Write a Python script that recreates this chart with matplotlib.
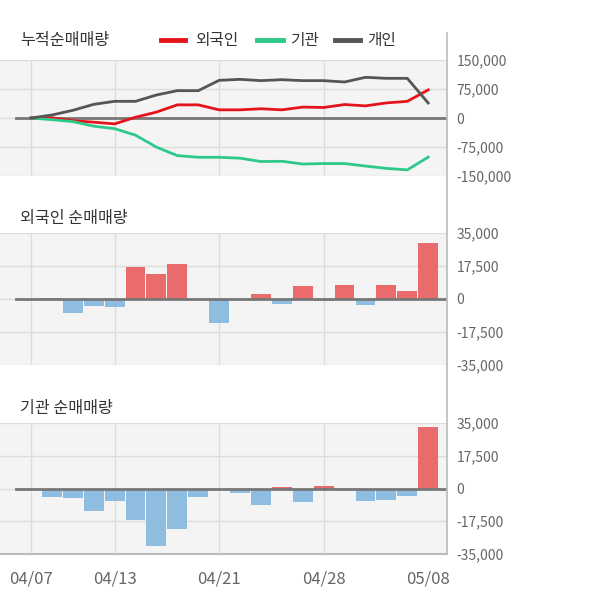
import numpy as np
import matplotlib
matplotlib.use("Agg")
import matplotlib.pyplot as plt
from matplotlib.lines import Line2D

plt.rcParams['font.family'] = ['Noto Sans CJK KR', 'DejaVu Sans']

# 거래일 (04/07 ~ 05/08)
dates = ["04/07", "04/08", "04/09", "04/10", "04/13", "04/14", "04/16", "04/17",
         "04/20", "04/21", "04/22", "04/23", "04/24", "04/27", "04/28", "04/29",
         "05/04", "05/06", "05/07", "05/08"]
tick_dates = ["04/07", "04/13", "04/21", "04/28", "05/08"]

# 일별 순매매량
foreign = [0, 700, -7600, -3900, -4400, 17100, 13400, 18700, 0, -12900,
           0, 2800, -2800, 7100, -1000, 7600, -3400, 7600, 4100, 29500]
inst = [0, -4400, -4900, -11800, -6500, -16800, -30900, -21900, -4400, 0,
        -2300, -8700, 700, -7100, 1200, 0, -6500, -6000, -3900, 33000]
# 개인 누적
indiv_cum = [0, 7800, 19800, 35300, 43100, 43100, 59500, 70700, 70700, 97400,
             100000, 96600, 99100, 96600, 96600, 93100, 105200, 102600, 102600, 38800]

foreign_cum = np.cumsum(foreign)
inst_cum = np.cumsum(inst)

RED = "#e5141b"
GREEN = "#2ec98a"
GRAY = "#555555"
BAR_RED = "#ea6b6b"
BAR_BLUE = "#8fbde0"
BG = "#f4f4f4"
GRID = "#dcdcdc"

x = np.arange(len(dates))
W, H = 600, 604
fig = plt.figure(figsize=(6, 6.04), dpi=100)


def make_ax(top, bottom, lim, ticks):
    ax = fig.add_axes([0, 1 - bottom / H, 447 / W, (bottom - top) / H])
    ax.set_facecolor(BG)
    ax.set_xlim(-1.483, 19.9)
    ax.set_ylim(-lim, lim)
    for s in ax.spines.values():
        s.set_visible(False)
    ax.yaxis.tick_right()
    ax.set_yticks(ticks)
    ax.set_yticklabels([f"{t:,}" for t in ticks])
    ax.tick_params(axis='y', length=0, pad=7, labelsize=10, labelcolor="#666666")
    ax.set_xticks([])
    for t in ticks:
        ax.axhline(t, color=GRID, lw=1, zorder=0)
    for i in [0, 4, 9, 14]:
        ax.axvline(i, color=GRID, lw=1, zorder=0)
    ax.axhline(0, xmin=16 / 447, color="#777777", lw=2, zorder=3)
    return ax


# 누적순매매량
ax1 = make_ax(60, 176, 150000, [150000, 75000, 0, -75000, -150000])
ax1.plot(x, foreign_cum, color=RED, lw=2, zorder=4)
ax1.plot(x, inst_cum, color=GREEN, lw=2, zorder=4)
ax1.plot(x, indiv_cum, color=GRAY, lw=2, zorder=4)

# 외국인 순매매량
ax2 = make_ax(233, 365, 35000, [35000, 17500, 0, -17500, -35000])
ax2.bar(x, foreign, width=0.95,
        color=[BAR_RED if v > 0 else BAR_BLUE for v in foreign], zorder=2)

# 기관 순매매량
ax3 = make_ax(423, 554, 35000, [35000, 17500, 0, -17500, -35000])
ax3.bar(x, inst, width=0.95,
        color=[BAR_RED if v > 0 else BAR_BLUE for v in inst], zorder=2)
ax3.spines['bottom'].set_visible(True)
ax3.spines['bottom'].set_color("#bbbbbb")
ax3.spines['bottom'].set_linewidth(1.5)
ax3.set_xticks([dates.index(d) for d in tick_dates])
ax3.set_xticklabels(tick_dates)
ax3.tick_params(axis='x', length=0, pad=12, labelsize=12, labelcolor="#666666")

# 오른쪽 세로선
fig.add_artist(Line2D([447 / W, 447 / W], [1 - 33 / H, 1 - 554 / H],
                      color="#bbbbbb", lw=1.2))

# 제목
fig.text(20 / W, 1 - 40 / H, "누적순매매량", fontsize=11.6, color="#333333", va="center")
fig.text(20 / W, 1 - 218 / H, "외국인 순매매량", fontsize=11.6, color="#333333", va="center")
fig.text(20 / W, 1 - 408 / H, "기관 순매매량", fontsize=11.6, color="#333333", va="center")

# 범례
for x0, x1, tx, col, lab in [(161, 185, 195, RED, "외국인"),
                             (257, 283, 290, GREEN, "기관"),
                             (335, 360, 367, GRAY, "개인")]:
    fig.add_artist(Line2D([x0 / W, x1 / W], [1 - 40 / H, 1 - 40 / H], color=col, lw=3.5))
    fig.text(tx / W, 1 - 40 / H, lab, fontsize=11.3, color="#333333", va="center")

fig.savefig("out.png", dpi=100, facecolor="white")
